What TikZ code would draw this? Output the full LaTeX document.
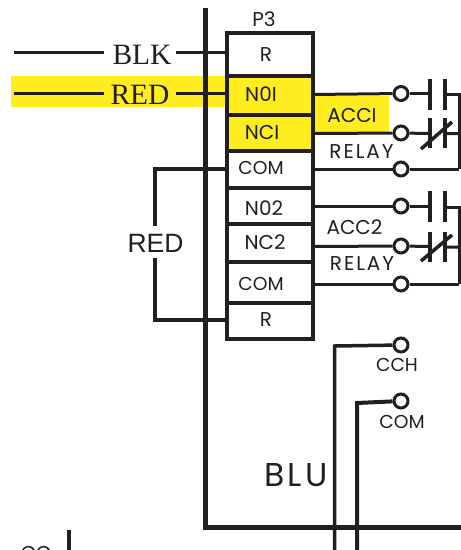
\documentclass[tikz,border=0pt]{standalone}
\usepackage{fontspec}
\setmainfont{Poppins}
\newfontfamily\serf{Liberation Serif}
\newfontfamily\arl{Liberation Sans}
\newfontfamily\spaced[LetterSpace=10]{Poppins}
\definecolor{ink}{HTML}{231F20}
\definecolor{hl}{HTML}{FFED1F}
\tikzset{
  wire/.style={draw=ink,line width=3.5pt},
  thin wire/.style={draw=ink,line width=3pt},
  bus/.style={draw=ink,line width=5pt},
  term/.style={circle,draw=ink,line width=3pt,fill=white,minimum size=14pt,inner sep=0pt},
  lab/.style={text=ink,font=\fontsize{20}{22}\selectfont,inner sep=0pt,anchor=center},
  comlab/.style={text=ink,font=\fontsize{18.7}{22}\selectfont,inner sep=0pt,anchor=center},
  rellab/.style={text=ink,font=\fontsize{20}{22}\selectfont\spaced,inner sep=0pt,anchor=center},
  slab/.style={text=ink,font=\fontsize{29.5}{30}\selectfont\serf,inner sep=0pt,anchor=center},
  blab/.style={text=ink,font=\fontsize{33}{34}\selectfont\spaced,inner sep=0pt,anchor=center},
  cell/.style={draw=ink,line width=4pt},
}
\begin{document}
\begin{tikzpicture}[x=1pt,y=-1pt]
\useasboundingbox (0,0) rectangle (461,550);
% highlights
\fill[hl] (11,76) rectangle (227,107);
\fill[hl] (227,76) rectangle (313,151);
\fill[hl] (313,96) rectangle (389,133);
% bus
\draw[bus] (205,8) |- (461,527.5);
% left wires
\coordinate (blkA) at (14,52.5); \coordinate (blkB) at (176,52.5);
\coordinate (redA) at (14,93.5); \coordinate (redB) at (176,93.5);
\node[slab] (blk) at (142,55) {BLK};
\node[slab] (redt) at (140,95) {RED};
\draw[wire] (blkA) -- (104,52.5) (blkB) -- (227,52.5);
\draw[wire] (redA) -- (104,93.5) (redB) -- (227,93.5);
% terminal strip
\draw[cell] (227,33) rectangle (313,339);
\foreach \yy in {76,115,151,188,224,262,303}{\draw[cell] (227,\yy) -- (313,\yy);}
\node[lab] (p3) at (264,19) {P3};
\node[lab] (r1) at (266,55) {R};
\node[lab] (no1) at (261,94) {N0I};
\node[lab] (nc1) at (262,132) {NCI};
\node[comlab] (com1) at (261,168) {COM};
\node[lab] (no2) at (264,208) {N02};
\node[lab] (nc2) at (265,242) {NC2};
\node[comlab] (com2) at (261,284) {COM};
\node[lab] (r2) at (266,320) {R};
\coordinate (e1) at (313,94.5); \coordinate (e2) at (313,133.5); \coordinate (e3) at (313,169);
\coordinate (e4) at (313,206); \coordinate (e5) at (313,246.5); \coordinate (e6) at (313,284);
% loop
\draw[wire] (227,169) -- (155,169) -- (155,226);
\draw[wire] (155,258) -- (155,320) -- (227,320);
\node[text=ink,inner sep=0pt,font=\fontsize{26.5}{28}\selectfont\arl] (redl) at (155.5,243) {RED};
% terminals
\foreach \n/\yy in {t1/93.5,t2/133,t3/169,t4/206,t5/246,t6/284}{\node[term] (\n) at (401,\yy) {};}
\draw[thin wire] (e1) -- (t1);
\draw[thin wire] (e2) -- (t2);
\draw[thin wire] (e3) -- (t3);
\draw[thin wire] (e4) -- (t4);
\draw[thin wire] (e5) -- (t5);
\draw[thin wire] (e6) -- (t6);
% contacts group 1
\draw[thin wire] (t1) -- (430,93.5) (445,94.5) -- (459,94.5) -- (459,169);
\draw[thin wire] (t2) -- (430,133.5) (445,133.5) -- (459,133.5);
\draw[thin wire] (t3) -- (459,169);
\draw[wire] (430,79) -- (430,110) (445,79) -- (445,110);
\draw[wire] (430,118) -- (430,148) (445,118) -- (445,148);
\draw[wire] (421,149) -- (452,122);
% contacts group 2
\draw[thin wire] (t4) -- (430,206) (445,207) -- (459,207) -- (459,284);
\draw[thin wire] (t5) -- (430,246.5) (445,247) -- (459,247);
\draw[thin wire] (t6) -- (459,284);
\draw[wire] (430,191) -- (430,222) (445,191) -- (445,222);
\draw[wire] (430,232) -- (430,262) (445,232) -- (445,262);
\draw[wire] (421,261) -- (452,235);
\node[lab] (acc1) at (352,115) {ACCI};
\node[rellab] (rel1) at (361.5,152) {RELAY};
\node[lab] (acc2) at (354.5,227) {ACC2};
\node[rellab] (rel2) at (362,264) {RELAY};
% lower terminals
\node[term] (cch) at (401,345) {};
\node[term] (com) at (401,401) {};
\draw[wire] (cch) -- (334.5,346) -- (334.5,550);
\draw[wire,line width=4pt] (com) -- (357,403) -- (357,550);
\node[comlab] (cchl) at (397,365) {CCH};
\node[comlab] (coml) at (402,422) {COM};
\node[blab] (blu) at (296,475) {BLU};
\draw[wire,line width=4pt] (69,530) -- (69,550);
\begin{scope}
\clip (0,0) rectangle (461,550);
\node[lab] (cc) at (36,553) {CC};
\end{scope}
\end{tikzpicture}
\end{document}
